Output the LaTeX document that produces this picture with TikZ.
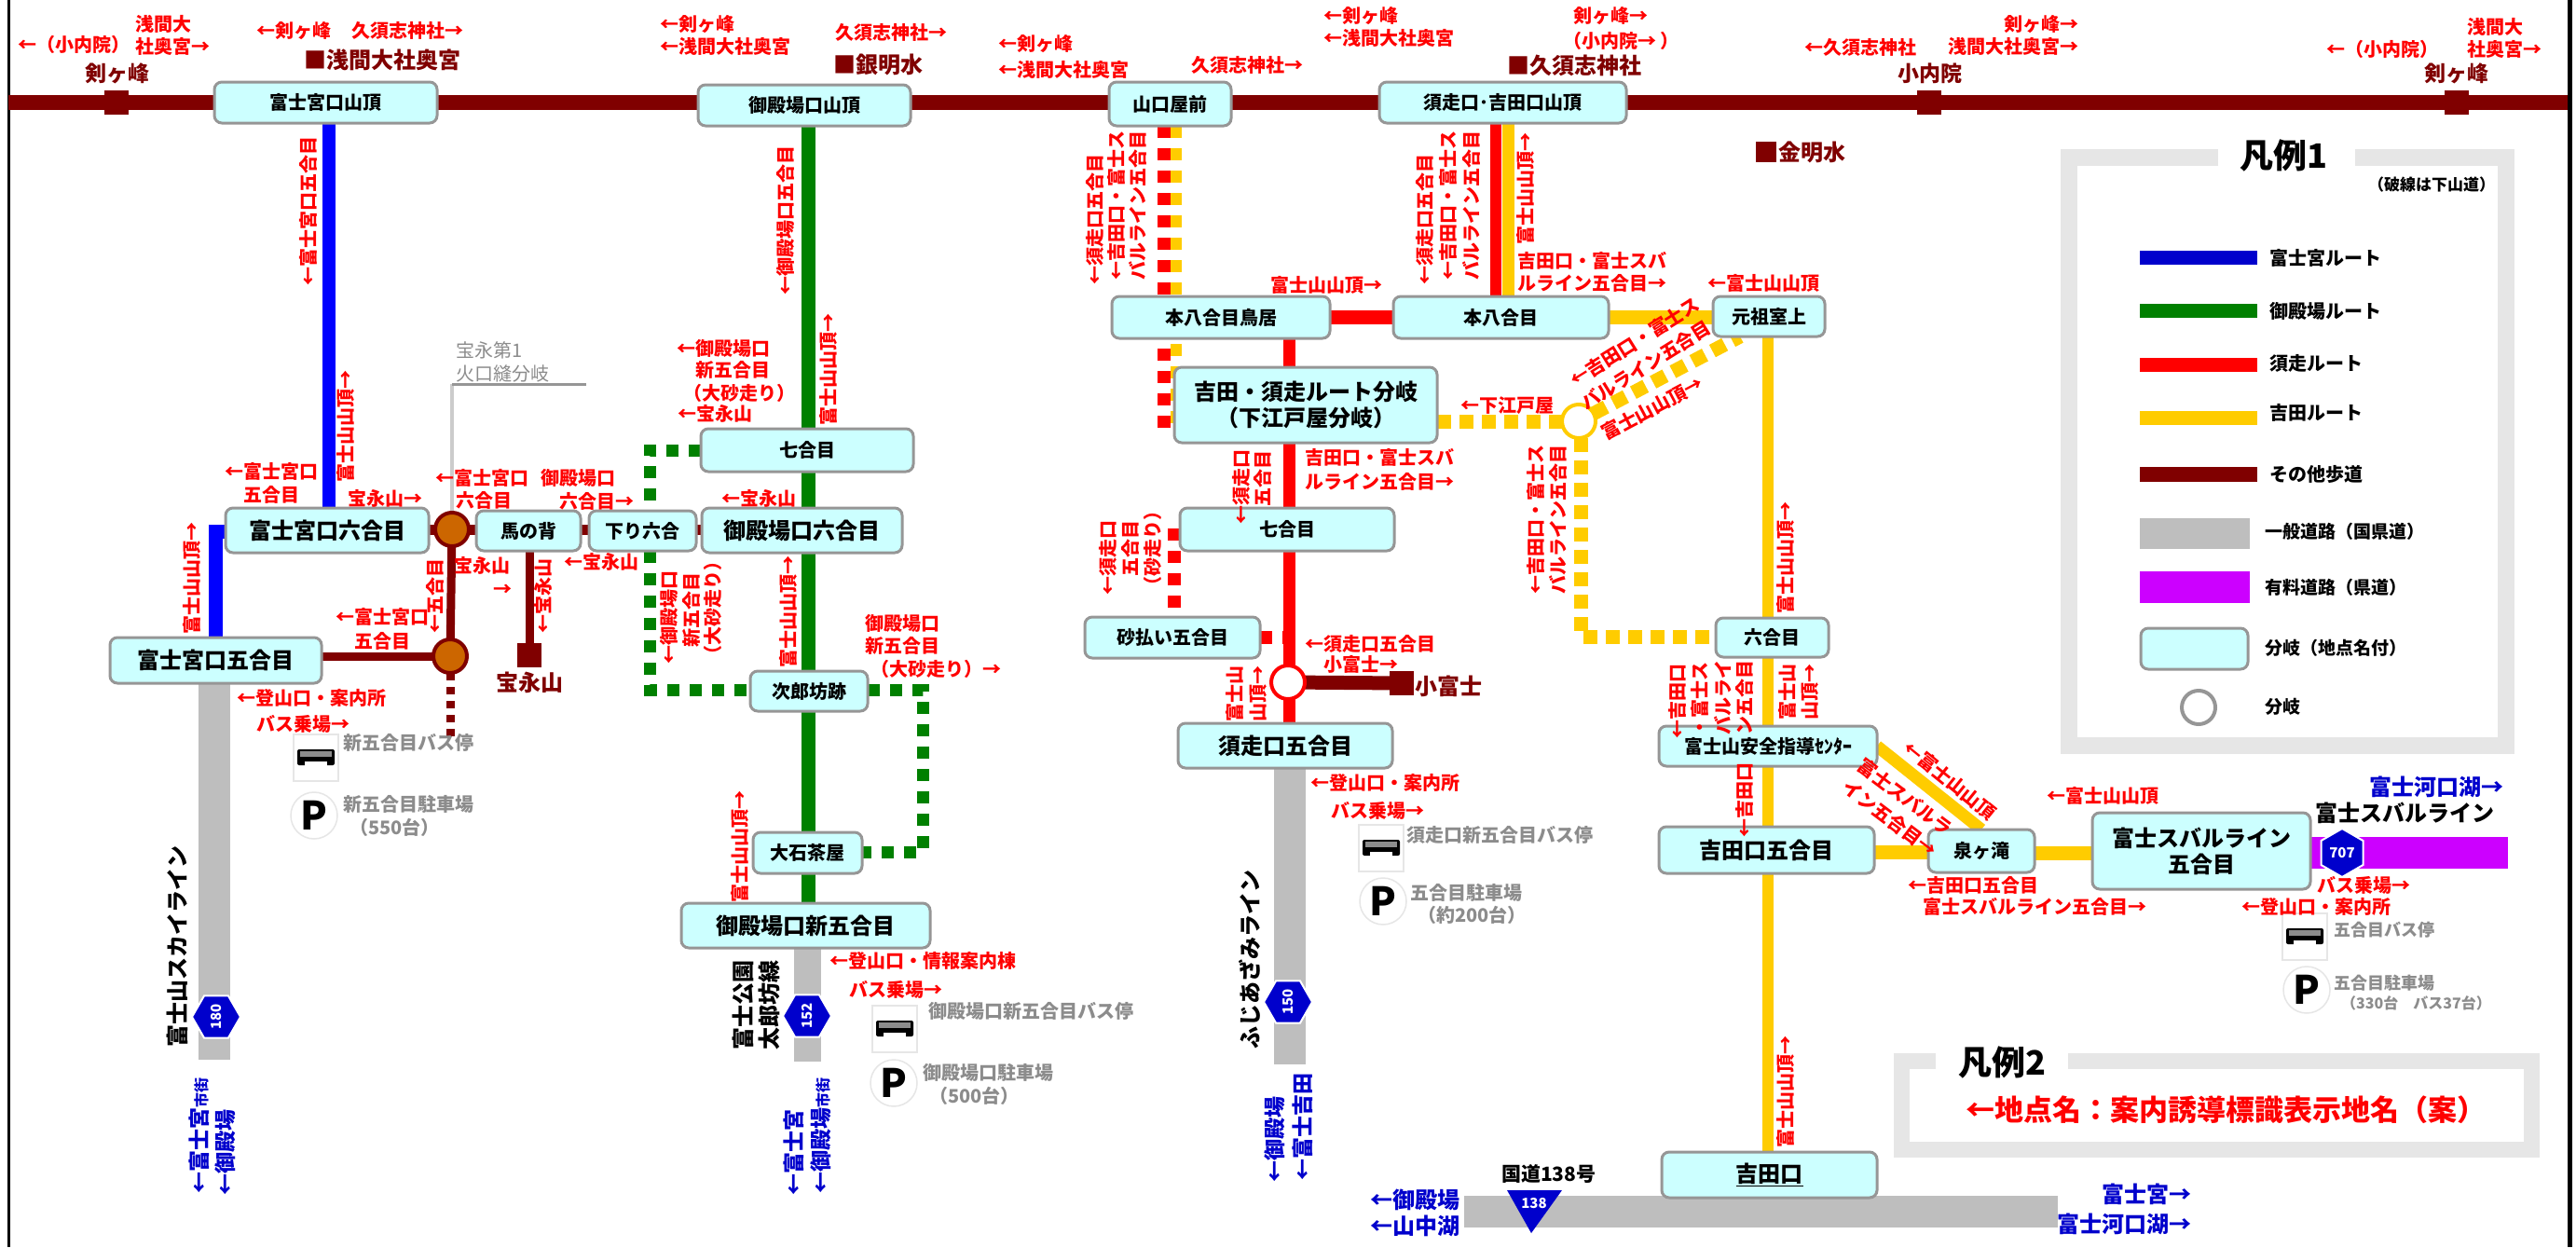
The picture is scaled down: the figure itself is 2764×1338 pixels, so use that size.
\documentclass[tikz,border=0pt]{standalone}
\usepackage{fontspec}
\setmainfont{Noto Sans CJK JP}
\usetikzlibrary{shapes.geometric,backgrounds}
\definecolor{rd}{HTML}{FF0000}
\definecolor{dk}{HTML}{800000}
\definecolor{bl}{HTML}{0000CC}
\definecolor{bline}{HTML}{0000FF}
\definecolor{gn}{HTML}{008000}
\definecolor{yl}{HTML}{FFCC00}
\definecolor{gy}{HTML}{8C8C8C}
\definecolor{bord}{HTML}{969696}
\definecolor{road}{HTML}{BEBEBE}
\definecolor{pu}{HTML}{CC00FF}
\definecolor{cy}{HTML}{CCFFFF}
\definecolor{lg}{HTML}{E6E6E6}
\definecolor{orn}{HTML}{CC6600}
\newcounter{tn}
\tikzset{
 fs/.style={font=\bfseries\fontsize{#1}{28}\selectfont,text height={#1*0.88pt},text depth={#1*0.12pt}},
 nfs/.style={font=\fontsize{#1}{28}\selectfont,text height={#1*0.88pt},text depth={#1*0.12pt}},
 txt/.style={inner sep=0pt,outer sep=0pt,align=left},
 bxs/.style={draw=bord,line width=3pt,fill=cy,rounded corners=8pt,inner sep=0pt,outer sep=0pt,align=center,text=black},
 rw/.style={txt,text=rd,anchor=west,fs=20},
 rv/.style={txt,text=rd,rotate=90,anchor=center,fs=20},
 rdi/.style={txt,text=rd,anchor=center,fs=20},
 dkl/.style={txt,text=dk,fs=24},
 gyl/.style={txt,text=gy,anchor=west,fs=20},
 bll/.style={txt,text=bl,fs=24},
 bkv/.style={txt,text=black,rotate=90,fs=24},
 leg/.style={txt,text=black,anchor=west,fs=20},
 sqn/.style={fill=dk,minimum size=26pt,inner sep=0pt,outer sep=0pt},
 circn/.style={circle,fill=#1,minimum size=36pt,inner sep=0pt,outer sep=0pt,line width=4pt},
 hexn/.style={regular polygon,regular polygon sides=6,fill=bl,draw=white,line width=2pt,minimum size=52pt,inner sep=0pt,text=white,fs=15,text height=,text depth=},
 dots/.style={line width=13pt,dash pattern=on 13pt off 11pt},
 dotsy/.style={line width=15pt,dash pattern=on 15pt off 9pt},
 legbar/.style={draw=none,inner sep=0pt,outer sep=0pt},
}
\newcommand{\Lbl}[4][]{\stepcounter{tn}\node[txt,#1] (t\thetn) at (#2,#3) {#4};}
\newcommand{\Rd}[3]{\stepcounter{tn}\node[rw] (t\thetn) at (#1,#2) {#3};}
\newcommand{\Rv}[3]{\stepcounter{tn}\node[rv] (t\thetn) at (#1,#2) {#3};}
\newcommand{\Gy}[3]{\stepcounter{tn}\node[gyl] (t\thetn) at (#1,#2) {#3};}
\newcommand{\Bx}[7]{\node[bxs,fs=#6,text height=,text depth=,minimum width={(#3-#2)*1pt},minimum height={(#5-#4)*1pt}] (#1) at ({(#2+#3)/2},{(#4+#5)/2}) {#7};}
\newcommand{\VL}[4][]{\coordinate (vx) at (#4,0);\draw[#1] (#2.south -| vx) -- (#3.north -| vx);}
\newcommand{\HLn}[4][]{\coordinate (vy) at (0,#4);\draw[#1] (#2.east |- vy) -- (#3.west |- vy);}
\newcommand{\Bus}[2]{\stepcounter{tn}\node[draw=lg,fill=white,line width=1.5pt,minimum width=48pt,minimum height=50pt,inner sep=0pt] (b\thetn) at (#1,#2) {};
 \fill[black,rounded corners=2pt] ([xshift=-20pt,yshift=-8pt]b\thetn.center) rectangle ([xshift=20pt,yshift=9pt]b\thetn.center);
 \fill[gy] ([xshift=-17pt,yshift=7pt]b\thetn.center) rectangle ([xshift=17pt,yshift=1pt]b\thetn.center);
 \fill[white] ([xshift=-12pt,yshift=-4pt]b\thetn.center) rectangle ([xshift=12pt,yshift=-9pt]b\thetn.center);}
\newcommand{\Pk}[2]{\stepcounter{tn}\node[circle,draw=lg,fill=white,line width=1.5pt,minimum size=50pt,inner sep=0pt,fs=42,text height=,text depth=,text=black] (p\thetn) at (#1,#2) {P};}
\begin{document}
\begin{tikzpicture}[x=1pt,y=-1pt]
\useasboundingbox (0,0) rectangle (2764,1338);
% ---------- boxes
\Bx{A}{230}{469}{88}{132}{20}{富士宮口山頂}
\Bx{B}{242}{460}{545}{593}{24}{富士宮口六合目}
\Bx{C}{511}{623}{548}{591}{20}{馬の背}
\Bx{D}{632}{747}{548}{591}{20}{下り六合}
\Bx{E}{118}{345}{684}{733}{24}{富士宮口五合目}
\Bx{F}{749}{977}{91}{135}{20}{御殿場口山頂}
\Bx{G}{752}{980}{460}{506}{20}{七合目}
\Bx{H}{753}{968}{545}{593}{24}{御殿場口六合目}
\Bx{I}{805}{931}{720}{763}{20}{次郎坊跡}
\Bx{J}{808}{925}{893}{937}{20}{大石茶屋}
\Bx{K}{731}{998}{969}{1017}{24}{御殿場口新五合目}
\Bx{L}{1190}{1321}{88}{135}{20}{山口屋前}
\Bx{M}{1193}{1427}{318}{363}{20}{本八合目鳥居}
\Bx{N}{1260}{1542}{394}{475}{24}{吉田・須走ルート分岐\\（下江戸屋分岐）}
\Bx{O}{1480}{1745}{88}{132}{20}{須走口･吉田口山頂}
\Bx{P}{1495}{1726}{318}{363}{20}{本八合目}
\Bx{Q}{1838}{1958}{318}{361}{20}{元祖室上}
\Bx{R}{1266}{1496}{545}{591}{20}{七合目}
\Bx{S}{1164}{1352}{662}{706}{20}{砂払い五合目}
\Bx{T}{1264}{1494}{776}{824}{24}{須走口五合目}
\Bx{U}{1841}{1962}{663}{705}{20}{六合目}
\Bx{V}{1780}{2014}{779}{822}{20}{富士山安全指導ｾﾝﾀｰ}
\Bx{W}{1780}{2011}{887}{937}{24}{吉田口五合目}
\Bx{X}{2069}{2183}{890}{936}{20}{泉ヶ滝}
\Bx{Y}{2245}{2479}{872}{954}{24}{富士スバルライン\\五合目}
\Bx{Z}{1783}{2014}{1236}{1285}{24}{\underline{吉田口}}
% ---------- small junctions
\node[circn=orn,draw=dk] (c1) at (485,568) {};
\node[circn=orn,draw=dk] (c2) at (483,704) {};
\node[circn=white,draw=rd] (c3) at (1382,732) {};
\node[circn=white,draw=yl] (c4) at (1694,452) {};
\node[sqn] (s1) at (125,110) {};
\node[sqn] (s2) at (2070,110) {};
\node[sqn] (s3) at (2636,110) {};
\node[sqn] (s4) at (568,703) {};
\node[sqn] (s5) at (1504,733) {};
\node[inner sep=0pt,fill=dk,minimum size=22pt] (s6) at (1895,163) {};
\coordinate (tl) at (9,110);
\coordinate (tr) at (2755,110);
\coordinate (f1) at (231,570);
\coordinate (g1) at (697,483);
\coordinate (g2) at (697,740);
\coordinate (g3) at (990,740);
\coordinate (g4) at (990,914);
\coordinate (y1) at (1696,683);
\coordinate (e1) at (483,794);
\coordinate (gl) at (485,412);
\coordinate (gr) at (629,412);
\coordinate (r1) at (1260,567);
\begin{pgfonlayer}{background}
\fill[white] (0,0) rectangle (2764,1338);
\fill[black] (8,0) rectangle (11,1338);
\fill[black] (2755,0) rectangle (2760,1338);
% trail
\draw[dk,line width=16pt] (tl) -- (tr);
% gray roads
\fill[road] (213,733) rectangle (247,1137);
\fill[road] (852,1017) rectangle (881,1139);
\fill[road] (1367,824) rectangle (1401,1142);
\fill[road] (1571,1283) rectangle (2208,1317);
\fill[pu] (2479,898) rectangle (2691,932);
% blue
\VL[bline,line width=14pt]{A}{B}{353}
\draw[bline,line width=15pt] (B.west |- f1) -- (f1) -- (E.north -| f1);
% green
\VL[gn,line width=15pt]{F}{G}{867.5}
\VL[gn,line width=15pt]{G}{H}{867.5}
\VL[gn,line width=15pt]{H}{I}{867.5}
\VL[gn,line width=15pt]{I}{J}{867.5}
\VL[gn,line width=15pt]{J}{K}{867.5}
\draw[gn,dots] (G.west |- g1) -- (g1) -- (g1 |- D.north);
\draw[gn,dots] (g1 |- D.south) -- (g2) -- (I.west |- g2);
\draw[gn,dots] (I.east |- g2) -- (g3) -- (g4) -- (J.east |- g4);
% brown
\draw[dk,line width=11pt] (B.east |- c1) -- (c1);
\draw[dk,line width=11pt] (c1) -- (C.west |- c1);
\draw[dk,line width=11pt] (C.east |- c1) -- (D.west |- c1);
\draw[dk,line width=11pt] (D.east |- c1) -- (H.west |- c1);
\draw[dk,line width=9pt] (c1) -- (c2);
\draw[dk,line width=9pt] (E.east |- c2) -- (c2);
\draw[dk,line width=9pt,dash pattern=on 8pt off 7pt] (c2) -- (e1);
\VL[dk,line width=9pt]{C}{s4}{568}
\draw[dk,line width=15pt] (c3) -- (s5);
% gray branch
\draw[black!20,line width=4pt] (c1 |- gl) -- (c1);
\draw[bord,line width=3pt] (gl) -- (gr);
% red
\VL[rd,line width=13pt]{M}{N}{1383}
\VL[rd,line width=13pt]{N}{R}{1383}
\VL[rd,line width=13pt]{R}{T}{1383}
\HLn[rd,line width=15pt]{M}{P}{340}
\VL[rd,line width=12pt]{O}{P}{1605}
\VL[yl,line width=13pt]{O}{P}{1618}
\VL[rd,dots,line width=14pt]{L}{M}{1249}
\VL[yl,dots,line width=12pt]{L}{M}{1262}
\draw[yl,dots,line width=12pt] (1262,369) -- (1262,462);
\draw[rd,dots,line width=14pt] (1249,374) -- (1249,462);
\draw[rd,dots,line width=14pt] (r1) -- (r1 |- S.north);
\draw[rd,dots,line width=14pt] (S.east) -- (1380,684);
% yellow
\HLn[yl,line width=15pt]{P}{Q}{340}
\VL[yl,line width=12pt]{Q}{U}{1897}
\VL[yl,line width=12pt]{U}{V}{1897}
\VL[yl,line width=12pt]{V}{W}{1897}
\VL[yl,line width=12pt]{W}{Z}{1897}
\draw[yl,dotsy] (N.east |- c4) -- (c4);
\draw[yl,dotsy] (c4) -- (1867,361);
\draw[yl,dotsy] (1696,470) -- (y1) -- (U.west |- y1);
\draw[yl,line width=13pt] (V.east) -- (X.north);
\HLn[yl,line width=15pt]{W}{X}{914}
\HLn[yl,line width=15pt]{X}{Y}{915}
% legend frames
\draw[lg,line width=18pt] (2380,169) -- (2220,169) -- (2220,800) -- (2689,800) -- (2689,169) -- (2527,169);
\draw[lg,line width=17pt] (2077,1138) -- (2040,1138) -- (2040,1233) -- (2716,1233) -- (2716,1138) -- (2219,1138);
\end{pgfonlayer}
% gray branch text
\Lbl[anchor=west,text=gy,nfs=20]{489}{376}{宝永第1}
\Lbl[anchor=west,text=gy,nfs=20]{489}{401}{火口縫分岐}
% shields
\node[hexn] (h1) at (232,1091) {\rotatebox{90}{180}};
\node[hexn] (h2) at (866,1090) {\rotatebox{90}{152}};
\node[hexn] (h3) at (1382,1075) {\rotatebox{90}{150}};
\node[hexn,regular polygon rotate=90] (h4) at (2513,915) {707};
\coordinate (tr1) at (1617,1277); \coordinate (tr2) at (1676,1277); \coordinate (tr3) at (1643,1323);
\fill[bl] (tr1) -- (tr2) -- (tr3) -- cycle;
\Lbl[text=white,fs=15]{1646}{1291}{138}
% ---------- icons
\Bus{339}{813}\Pk{337}{875}
\Bus{960}{1104}\Pk{959}{1162}
\Bus{1482}{910}\Pk{1484}{967}
\Bus{2473}{1005}\Pk{2475}{1062}
\Gy{368}{797}{新五合目バス停}
\Gy{368}{863}{新五合目駐車場}
\Gy{375}{888}{（550台）}
\Gy{996}{1085}{御殿場口新五合目バス停}
\Gy{990}{1151}{御殿場口駐車場}
\Gy{997}{1176}{（500台）}
\Gy{1509}{896}{須走口新五合目バス停}
\Gy{1513}{958}{五合目駐車場}
\Gy{1521}{982}{（約200台）}
\Lbl[anchor=west,text=gy,fs=18]{2504}{998}{五合目バス停}
\Lbl[anchor=west,text=gy,fs=18]{2504}{1055}{五合目駐車場}
\Lbl[anchor=west,text=gy,fs=16]{2512}{1076}{（330台　バス37台）}
% ---------- dark place names
\Lbl[dkl,fs=23]{126}{79}{剣ヶ峰}
\Lbl[dkl,anchor=west]{326}{64}{■浅間大社奥宮}
\Lbl[dkl,anchor=west]{894}{69}{■銀明水}
\Lbl[dkl,anchor=west]{1617}{70}{■久須志神社}
\Lbl[dkl,fs=23]{2071}{79}{小内院}
\Lbl[dkl,fs=23]{2636}{79}{剣ヶ峰}
\Lbl[dkl,anchor=west]{1908}{163}{金明水}
\Lbl[dkl]{568}{732}{宝永山}
\Lbl[dkl,anchor=west]{1518}{736}{小富士}
% ---------- top red labels
\Rd{19}{48}{←（小内院）}
\Rd{145}{26}{浅間大}
\Rd{145}{50}{社奥宮→}
\Rd{275}{33}{←剣ヶ峰}
\Rd{377}{33}{久須志神社→}
\Rd{708}{26}{←剣ヶ峰}
\Rd{708}{50}{←浅間大社奥宮}
\Rd{896}{35}{久須志神社→}
\Rd{1071}{47}{←剣ヶ峰}
\Rd{1071}{75}{←浅間大社奥宮}
\Rd{1278}{70}{久須志神社→}
\Rd{1420}{17}{←剣ヶ峰}
\Rd{1420}{41}{←浅間大社奥宮}
\Rd{1688}{17}{剣ヶ峰→}
\Rd{1677}{44}{（小内院→ ）}
\Rd{1936}{51}{←久須志神社}
\Rd{2150}{26}{剣ヶ峰→}
\Rd{2090}{50}{浅間大社奥宮→}
\Rd{2496}{53}{←（小内院）}
\Rd{2647}{29}{浅間大}
\Rd{2647}{53}{社奥宮→}
% ---------- Fujinomiya
\Rv{331}{226}{←富士宮口五合目}
\Rv{371}{457}{富士山山頂→}
\Rv{206}{620}{富士山山頂→}
\Rd{373}{535}{宝永山→}
\Rd{241}{506}{←富士宮口}
\Rd{261}{531}{五合目}
\Rd{467}{513}{←富士宮口}
\Rd{489}{537}{六合目}
\Rd{580}{513}{御殿場口}
\Rd{600}{538}{六合目→}
\Rd{605}{603}{←宝永山}
\Rd{487}{607}{宝永山}
\Rd{529}{632}{→}
\Rv{467}{639}{←五合目}
\Rv{583}{639}{←宝永山}
\Rd{360}{662}{←富士宮口}
\Rd{380}{688}{五合目}
\Rd{254}{749}{←登山口・案内所}
\Rd{275}{777}{バス乗場→}
\Lbl[bkv]{190}{1015}{富士山スカイライン}
\Lbl[bll,rotate=90,fs=23]{214}{1218}{←富士宮{\fontsize{16}{16}\selectfont 市街}}
\Lbl[bll,rotate=90,fs=23]{242}{1236}{←御殿場}
% ---------- Gotemba
\Rv{843}{236}{←御殿場口五合目}
\Rv{889}{396}{富士山山頂→}
\Rd{726}{374}{←御殿場口}
\Rd{746}{397}{新五合目}
\Rd{733}{422}{（大砂走り）}
\Rd{727}{444}{←宝永山}
\Rd{774}{535}{←宝永山}
\Rv{846}{656}{富士山山頂→}
\Rv{718}{662}{←御殿場口}
\Rv{742}{654}{新五合目}
\Rv{765}{652}{（大砂走り）}
\Rd{928}{669}{御殿場口}
\Rd{928}{693}{新五合目}
\Rd{934}{718}{（大砂走り）→}
\Rv{794}{908}{富士山山頂→}
\Rd{890}{1031}{←登山口・情報案内棟}
\Rd{911}{1062}{バス乗場→}
\Lbl[bkv]{797}{1078}{富士公園}
\Lbl[bkv]{825}{1078}{太郎坊線}
\Lbl[bll,rotate=90,fs=23]{852}{1236}{←富士宮}
\Lbl[bll,rotate=90,fs=23]{881}{1218}{←御殿場{\fontsize{16}{16}\selectfont 市街}}
% ---------- Subashiri
\Rv{1175}{235}{←須走口五合目}
\Rv{1198}{220}{←吉田口・富士ス}
\Rv{1221}{220}{バルライン五合目}
\Rd{1363}{306}{富士山山頂→}
\Rv{1529}{235}{←須走口五合目}
\Rv{1554}{220}{←吉田口・富士ス}
\Rv{1579}{220}{バルライン五合目}
\Rv{1637}{202}{富士山山頂→}
\Rd{1628}{280}{吉田口・富士スバ}
\Rd{1628}{304}{ルライン五合目→}
\Rd{1832}{304}{←富士山山頂}
\Lbl[rdi,rotate=32]{1754}{367}{←吉田口・富士ス}
\Lbl[rdi,rotate=32]{1766}{392}{バルライン五合目}
\Lbl[rdi,rotate=28]{1773}{438}{富士山山頂→}
\Rd{1567}{435}{←下江戸屋}
\Rd{1400}{491}{吉田口・富士スバ}
\Rd{1400}{517}{ルライン五合目→}
\Rv{1648}{557}{←吉田口・富士ス}
\Rv{1672}{557}{バルライン五合目}
\Rv{1916}{598}{富士山山頂→}
\Rv{1332}{522}{←須走口}
\Rv{1355}{513}{五合目}
\Rv{1189}{598}{←須走口}
\Rv{1213}{588}{五合目}
\Rv{1237}{588}{（砂走り）}
\Rd{1400}{691}{←須走口五合目}
\Rd{1420}{713}{小富士→}
\Rv{1325}{744}{富士山}
\Rv{1350}{744}{山頂→}
\Rd{1406}{840}{←登山口・案内所}
\Rd{1428}{870}{バス乗場→}
\Lbl[bkv]{1341}{1029}{ふじあざみライン}
\Lbl[bll,rotate=90,fs=23]{1368}{1222}{←御殿場}
\Lbl[bll,rotate=90,fs=23]{1398}{1209}{←富士吉田}
% ---------- Yoshida
\Rv{1800}{752}{←吉田口}
\Rv{1824}{750}{・富士ス}
\Rv{1849}{748}{バルライ}
\Rv{1872}{748}{ン五合目}
\Rv{1918}{742}{富士山}
\Rv{1942}{742}{山頂→}
\Rv{1872}{858}{←吉田口}
\Lbl[rdi,rotate=-39]{2092}{837}{←富士山山頂}
\Lbl[rdi,rotate=-37]{2044}{855}{富士スバルラ}
\Lbl[rdi,rotate=-37]{2028}{878}{イン五合目→}
\Rd{2047}{950}{←吉田口五合目}
\Rd{2063}{973}{富士スバルライン五合目→}
\Rd{2196}{854}{←富士山山頂}
\Lbl[bll,anchor=west]{2542}{844}{富士河口湖→}
\Lbl[anchor=west,text=black,fs=24]{2484}{872}{富士スバルライン}
\Rd{2486}{950}{バス乗場→}
\Rd{2405}{973}{←登山口・案内所}
\Rv{1916}{1171}{富士山山頂→}
\Lbl[anchor=west,text=black,fs=21]{1611}{1260}{国道138号}
\Lbl[bll,anchor=west]{1470}{1287}{←御殿場}
\Lbl[bll,anchor=west]{1470}{1315}{←山中湖}
\Lbl[bll,anchor=west]{2255}{1281}{富士宮→}
\Lbl[bll,anchor=west]{2207}{1313}{富士河口湖→}
% ---------- legend 1
\Lbl[text=black,fs=36]{2450}{167}{凡例1}
\Lbl[leg,fs=17]{2541}{198}{（破線は下山道）}
\node[legbar,fill=bl,minimum width=126pt,minimum height=15pt,anchor=north west] (lb1) at (2296,269) {};
\node[legbar,fill=gn,minimum width=126pt,minimum height=15pt,anchor=north west] (lb2) at (2296,326) {};
\node[legbar,fill=rd,minimum width=126pt,minimum height=15pt,anchor=north west] (lb3) at (2296,384) {};
\node[legbar,fill=yl,minimum width=126pt,minimum height=15pt,anchor=north west] (lb4) at (2296,441) {};
\node[legbar,fill=dk,minimum width=126pt,minimum height=16pt,anchor=north west] (lb5) at (2296,501) {};
\node[legbar,fill=road,minimum width=118pt,minimum height=33pt,anchor=north west] (lb6) at (2296,556) {};
\node[legbar,fill=pu,minimum width=118pt,minimum height=34pt,anchor=north west] (lb7) at (2296,613) {};
\Lbl[leg]{2435}{277}{富士宮ルート}
\Lbl[leg]{2435}{334}{御殿場ルート}
\Lbl[leg]{2435}{390}{須走ルート}
\Lbl[leg]{2435}{443}{吉田ルート}
\Lbl[leg]{2435}{509}{その他歩道}
\Lbl[leg,fs=19]{2430}{570}{一般道路（国県道）}
\Lbl[leg,fs=19]{2430}{630}{有料道路（県道）}
\Bx{lb8}{2297}{2412}{674}{718}{20}{}
\Lbl[leg,fs=19]{2430}{695}{分岐（地点名付）}
\node[circn=white,draw=bord] (lb9) at (2359,759) {};
\Lbl[leg,fs=19]{2430}{758}{分岐}
% ---------- legend 2
\Lbl[text=black,fs=36]{2148}{1140}{凡例2}
\Lbl[anchor=west,text=rd,fs=31]{2109}{1191}{←地点名：案内誘導標識表示地名（案）}
\end{tikzpicture}
\end{document}
